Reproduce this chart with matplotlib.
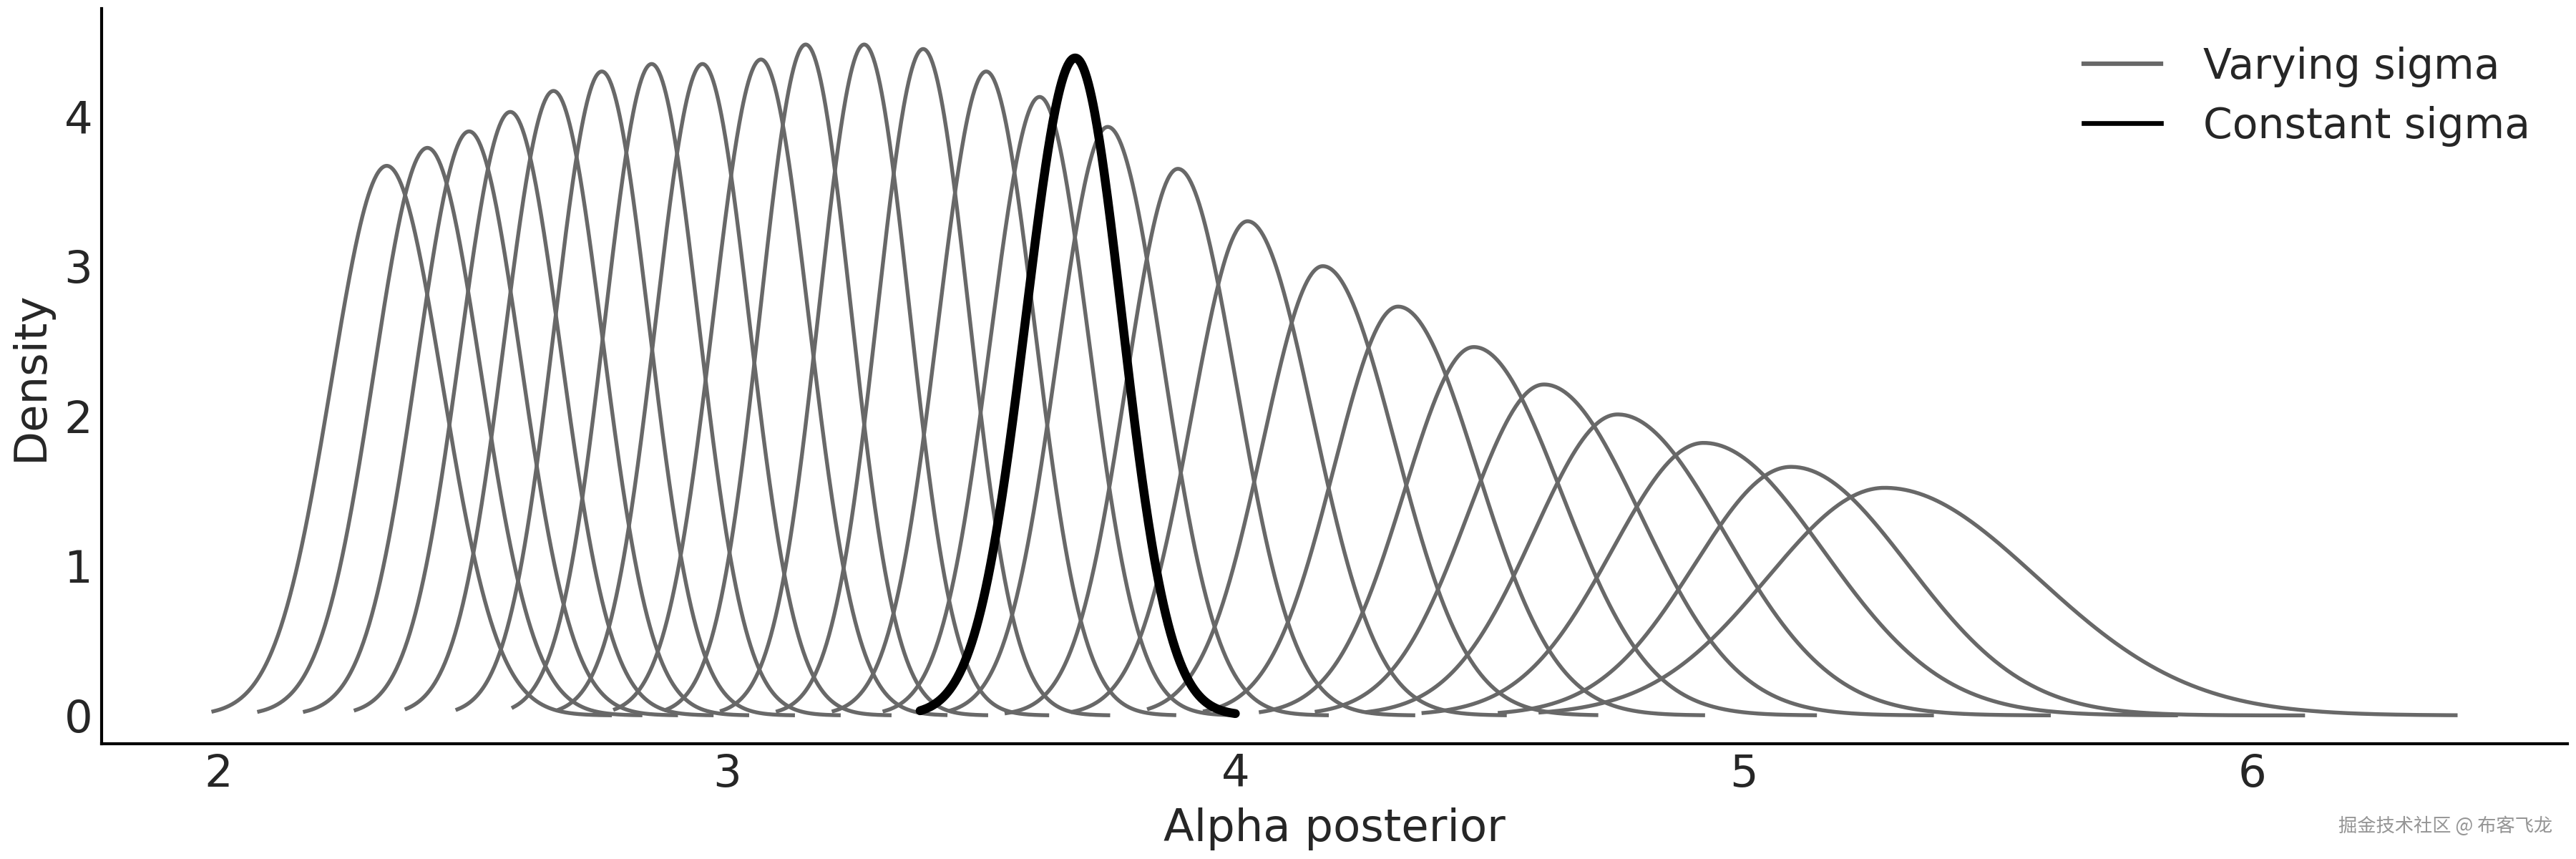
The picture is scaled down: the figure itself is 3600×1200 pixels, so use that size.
import numpy as np
import matplotlib.pyplot as plt
from matplotlib.lines import Line2D

# Courbes "Varying sigma" : mode, hauteur du pic, largeurs gauche/droite, bornes
modes = [2.331, 2.411, 2.493, 2.574, 2.659, 2.754, 2.852, 2.952, 3.067, 3.155,
         3.270, 3.386, 3.510, 3.615, 3.749, 3.887, 4.024, 4.172, 4.320, 4.469,
         4.607, 4.752, 4.921, 5.093, 5.277]
peaks = [3.67, 3.79, 3.90, 4.03, 4.17, 4.30, 4.35, 4.35, 4.38, 4.48,
         4.48, 4.45, 4.30, 4.13, 3.93, 3.65, 3.30, 3.00, 2.73, 2.46,
         2.21, 2.01, 1.82, 1.66, 1.52]
sd_left = [0.109, 0.105, 0.102, 0.099, 0.096, 0.093, 0.092, 0.092, 0.094, 0.089,
           0.089, 0.090, 0.095, 0.097, 0.100, 0.102, 0.110, 0.118, 0.126, 0.137,
           0.150, 0.165, 0.180, 0.190, 0.230]
sd_right = [0.109, 0.105, 0.102, 0.099, 0.096, 0.093, 0.092, 0.092, 0.094, 0.089,
            0.089, 0.090, 0.095, 0.097, 0.108, 0.115, 0.128, 0.142, 0.155, 0.172,
            0.190, 0.210, 0.235, 0.230, 0.300]
starts = [1.99, 2.08, 2.17, 2.27, 2.37, 2.47, 2.58, 2.67, 2.78, 2.88,
          2.99, 3.10, 3.21, 3.31, 3.44, 3.55, 3.68, 3.83, 3.94, 4.05,
          4.16, 4.26, 4.37, 4.52, 4.60]
ends = [2.77, 2.83, 2.90, 2.97, 3.04, 3.13, 3.22, 3.32, 3.43, 3.51,
        3.63, 3.75, 3.88, 4.00, 4.18, 4.35, 4.53, 4.71, 4.92, 5.14,
        5.37, 5.60, 5.85, 6.10, 6.40]

# Courbe "Constant sigma"
const_mode = 3.685
const_peak = 4.39
const_sd = (0.097, 0.092)
const_range = (3.38, 4.00)

gray = "#686868"


def density_curve(mode, peak, sl, sr, lo, hi):
    x = np.linspace(lo, hi, 400)
    s = np.where(x < mode, sl, sr)
    return x, peak * np.exp(-0.5 * ((x - mode) / s) ** 2)


fig = plt.figure(figsize=(12, 4), dpi=300)
ax = fig.add_axes([0.0394, 0.134, 0.9573, 0.856])

for m, p, sl, sr, lo, hi in zip(modes, peaks, sd_left, sd_right, starts, ends):
    x, y = density_curve(m, p, sl, sr, lo, hi)
    ax.plot(x, y, color=gray, lw=1.3)

x, y = density_curve(const_mode, const_peak, const_sd[0], const_sd[1], *const_range)
ax.plot(x, y, color="black", lw=3.0, solid_capstyle="round")

ax.set_xlim(1.77, 6.62)
ax.set_ylim(-0.19, 4.72)
ax.set_xticks([2, 3, 4, 5, 6])
ax.set_yticks([0, 1, 2, 3, 4])
ax.tick_params(length=0, labelsize=15, labelcolor="#262626", pad=3)
for side in ["top", "right"]:
    ax.spines[side].set_visible(False)
for side in ["left", "bottom"]:
    ax.spines[side].set_linewidth(1.0)
    ax.spines[side].set_color("black")

ax.set_xlabel("Alpha posterior", fontsize=15, color="#262626", labelpad=4)
ax.set_ylabel("Density", fontsize=15, color="#262626", labelpad=4)

handles = [Line2D([], [], color=gray, lw=1.5), Line2D([], [], color="black", lw=1.6)]
ax.legend(handles, ["Varying sigma", "Constant sigma"], loc="upper right",
          fontsize=14, frameon=False, labelcolor="#262626",
          handlelength=1.85, handletextpad=1.0, labelspacing=0.45)

fig.text(0.991, 0.038, "掘金技术社区 @ 布客飞龙", ha="right", va="center",
         fontsize=6.3, color="#959595", family=["Noto Sans CJK SC", "DejaVu Sans"])

fig.savefig("out.png", dpi=300)
